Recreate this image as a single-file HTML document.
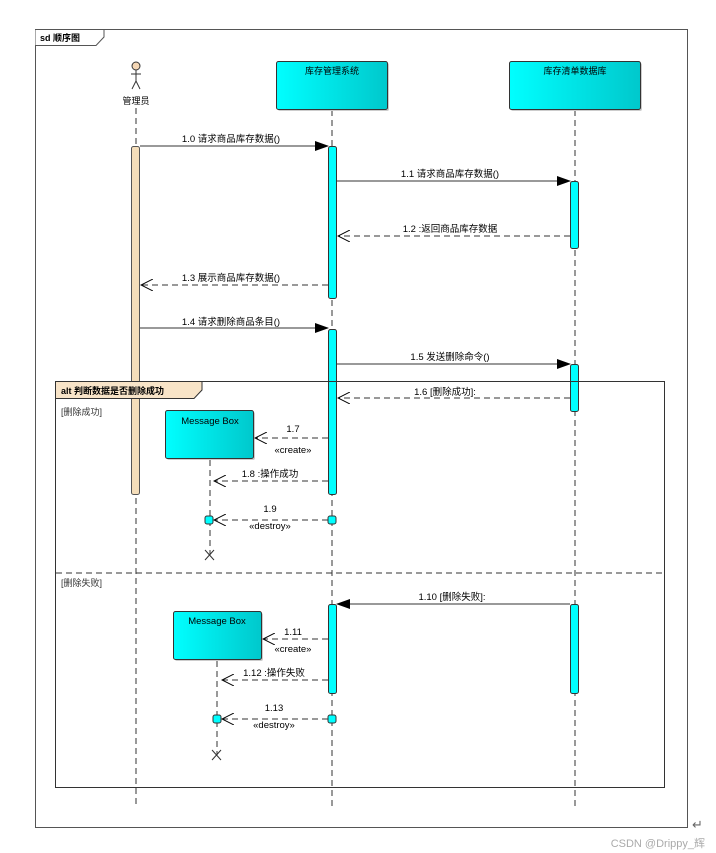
<!DOCTYPE html>
<html><head><meta charset="utf-8"><style>
html,body{margin:0;padding:0;background:#fff;}
svg{display:block;}
text{font-family:"Liberation Sans","Noto Sans CJK SC",sans-serif;font-size:9.5px;fill:#000;}
</style></head><body>
<svg width="716" height="853" viewBox="0 0 716 853" xmlns="http://www.w3.org/2000/svg">
<defs>
<linearGradient id="cy" x1="0" x2="1" y1="0" y2="0"><stop offset="0" stop-color="#00ffff"/><stop offset="1" stop-color="#00c8cc"/></linearGradient>
<marker id="fill" markerWidth="14" markerHeight="10" refX="13" refY="5" orient="auto" markerUnits="userSpaceOnUse"><path d="M0,0 L14,5 L0,10 z" fill="#000"/></marker>
<marker id="open" markerWidth="13" markerHeight="12" refX="12" refY="6" orient="auto" markerUnits="userSpaceOnUse"><path d="M0,0 L12,6 L0,12" fill="none" stroke="#000" stroke-width="1"/></marker>
</defs>
<rect x="35.5" y="29.5" width="652" height="798" fill="none" stroke="#555" stroke-width="1"/>
<path d="M35.5,29.5 H104 V37 L96,45.5 H35.5" fill="#fff" stroke="#555"/>
<text x="40" y="41" style="font-weight:bold;font-size:9px">sd 顺序图</text>

<g stroke="#333" stroke-dasharray="6,4" stroke-width="1">
<line x1="136" y1="108" x2="136" y2="808"/>
<line x1="332" y1="110" x2="332" y2="808"/>
<line x1="575" y1="110" x2="575" y2="808"/>
<line x1="210" y1="460" x2="210" y2="555"/>
<line x1="217" y1="661" x2="217" y2="755"/>
</g>
<g stroke="#333" fill="none">
<circle cx="136" cy="66" r="4" fill="#f5d7b5"/>
<line x1="136" y1="70" x2="136" y2="81"/>
<line x1="131" y1="74" x2="141" y2="74"/>
<line x1="136" y1="81" x2="132" y2="89"/>
<line x1="136" y1="81" x2="140" y2="89"/>
</g>
<text x="136" y="104" text-anchor="middle" style="font-size:9px">管理员</text>
<rect x="278" y="63" width="111" height="48" rx="2" fill="#ccc"/>
<rect x="276.5" y="61.5" width="111" height="48" rx="2" fill="url(#cy)" stroke="#333"/>
<text x="332" y="74" text-anchor="middle" style="font-size:9px">库存管理系统</text>
<rect x="511" y="63" width="131" height="48" rx="2" fill="#ccc"/>
<rect x="509.5" y="61.5" width="131" height="48" rx="2" fill="url(#cy)" stroke="#333"/>
<text x="575" y="74" text-anchor="middle" style="font-size:9px">库存清单数据库</text>

<rect x="131.5" y="146.5" width="8" height="348" rx="2" fill="#f5deba" stroke="#555"/>
<g fill="#00ffff" stroke="#333">
<rect x="328.5" y="146.5" width="8" height="152" rx="2"/>
<rect x="328.5" y="329.5" width="8" height="165" rx="2"/>
<rect x="328.5" y="604.5" width="8" height="89" rx="2"/>
<rect x="570.5" y="181.5" width="8" height="67" rx="2"/>
<rect x="570.5" y="364.5" width="8" height="47" rx="2"/>
<rect x="570.5" y="604.5" width="8" height="89" rx="2"/>
<rect x="328" y="516" width="8" height="8" rx="2"/>
<rect x="205" y="516" width="8" height="8" rx="2"/>
<rect x="328" y="715" width="8" height="8" rx="2"/>
<rect x="213" y="715" width="8" height="8" rx="2"/>
</g>

<rect x="55.5" y="381.5" width="609" height="406" fill="none" stroke="#333"/>
<path d="M55.5,381.5 H202 V390 L194,398.5 H55.5 z" fill="#f8e4c8" stroke="#333"/>
<text x="61" y="394" style="font-weight:bold;font-size:9px">alt 判断数据是否删除成功</text>
<line x1="56" y1="573" x2="664" y2="573" stroke="#333" stroke-dasharray="6,4"/>
<text x="61" y="415" style="font-size:9px;fill:#333">[删除成功]</text>
<text x="61" y="586" style="font-size:9px;fill:#333">[删除失败]</text>

<rect x="167" y="412" width="88" height="48" rx="2" fill="#ccc"/>
<rect x="165.5" y="410.5" width="88" height="48" rx="2" fill="url(#cy)" stroke="#333"/>
<text x="210" y="424" text-anchor="middle">Message Box</text>
<rect x="175" y="613" width="88" height="48" rx="2" fill="#ccc"/>
<rect x="173.5" y="611.5" width="88" height="48" rx="2" fill="url(#cy)" stroke="#333"/>
<text x="217" y="624" text-anchor="middle">Message Box</text>
<g stroke="#333"><path d="M205,550 l9,10 M214,550 l-9,10"/><path d="M212,750 l9,10 M221,750 l-9,10"/></g>

<g stroke="#333" stroke-width="1" marker-end="url(#fill)">
<line x1="140" y1="146" x2="328" y2="146"/>
<line x1="337" y1="181" x2="570" y2="181"/>
<line x1="140" y1="328" x2="328" y2="328"/>
<line x1="337" y1="364" x2="570" y2="364"/>
<line x1="570" y1="604" x2="337" y2="604"/>
</g>
<g stroke="#333" stroke-width="1" stroke-dasharray="6,4" marker-end="url(#open)">
<line x1="570" y1="236" x2="338" y2="236"/>
<line x1="328" y1="285" x2="141" y2="285"/>
<line x1="570" y1="398" x2="338" y2="398"/>
<line x1="328" y1="438" x2="255" y2="438"/>
<line x1="328" y1="481" x2="214" y2="481"/>
<line x1="328" y1="520" x2="214" y2="520"/>
<line x1="328" y1="639" x2="263" y2="639"/>
<line x1="328" y1="680" x2="222" y2="680"/>
<line x1="328" y1="719" x2="222" y2="719"/>
</g>
<g text-anchor="middle">
<text x="231" y="142">1.0 请求商品库存数据()</text>
<text x="450" y="177">1.1 请求商品库存数据()</text>
<text x="450" y="232">1.2 :返回商品库存数据</text>
<text x="231" y="281">1.3 展示商品库存数据()</text>
<text x="231" y="325">1.4 请求删除商品条目()</text>
<text x="450" y="360">1.5 发送删除命令()</text>
<text x="445" y="395">1.6 [删除成功]:</text>
<text x="293" y="432">1.7</text>
<text x="293" y="453">«create»</text>
<text x="270" y="477">1.8 :操作成功</text>
<text x="270" y="512">1.9</text>
<text x="270" y="529">«destroy»</text>
<text x="452" y="600">1.10 [删除失败]:</text>
<text x="293" y="635">1.11</text>
<text x="293" y="652">«create»</text>
<text x="274" y="676">1.12 :操作失败</text>
<text x="274" y="711">1.13</text>
<text x="274" y="728">«destroy»</text>
</g>
<text x="692" y="829" style="font-size:13px;fill:#666">↵</text>
<text x="705" y="847" text-anchor="end" style="font-size:11px;fill:#aaa">CSDN @Drippy_辉</text>
</svg>
</body></html>
